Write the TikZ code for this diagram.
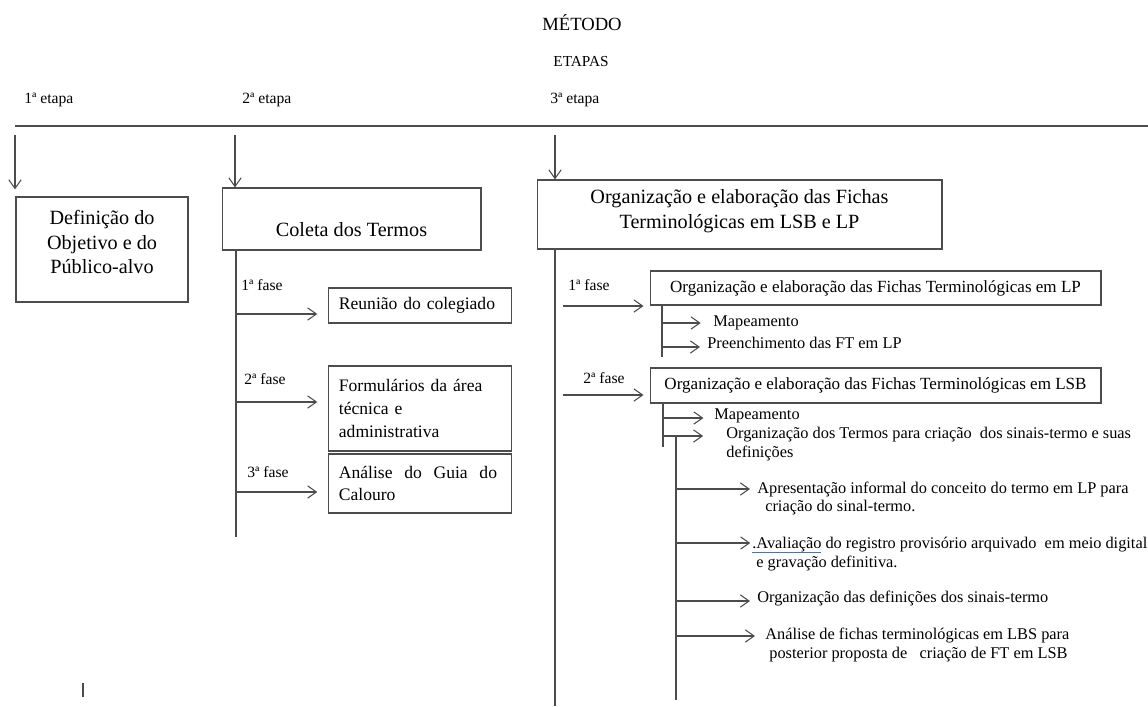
\documentclass[tikz,border=0pt]{standalone}
\usepackage{fontspec}
\setmainfont{Liberation Serif}
\usetikzlibrary{arrows.meta}

\definecolor{ulblue}{RGB}{68,114,196}
\newsavebox{\ulbox}
\newcommand{\blueul}[1]{\sbox{\ulbox}{#1}\rlap{\textcolor{ulblue}{\rule[-2.4pt]{\wd\ulbox}{0.6pt}}}\usebox{\ulbox}}

\tikzset{
  ln/.style={draw=black!70, line width=0.6pt},
  arr/.style={ln, -{Straight Barb[length=5pt,width=7pt]}},
  bigbox/.style={draw=black!70, line width=0.6pt, rectangle, inner sep=0pt, font=\fontsize{11.5}{14}\selectfont},
  medbox/.style={draw=black!70, line width=0.6pt, rectangle, inner xsep=6pt, inner ysep=0pt, text width=92.3pt, align=left, font=\fontsize{10}{13}\selectfont},
  fichabox/.style={draw=black!70, line width=0.6pt, rectangle, inner sep=0pt, minimum width=9.02cm, font=\fontsize{9.7}{10.4}\selectfont},
  lbl/.style={inner sep=0pt, anchor=west, font=\fontsize{8.9}{10}\selectfont},
  item/.style={inner sep=0pt, anchor=west, align=left, font=\fontsize{9.3}{10.4}\selectfont},
}

\begin{document}
\begin{tikzpicture}[x=0.02cm, y=-0.02cm]
 \useasboundingbox (0,0) rectangle (1148,706);

 \node (metodo) [font=\fontsize{10.6}{12}\selectfont] at (582,23) {MÉTODO};
 \node (etapas) [font=\fontsize{8.7}{10}\selectfont] at (581,62) {ETAPAS};
 \node (etapa1) [lbl] at (24,100) {1ª etapa};
 \node (etapa2) [lbl] at (242,100) {2ª etapa};
 \node (etapa3) [lbl] at (550,100) {3ª etapa};
 \coordinate (linel) at (15,126);
 \coordinate (liner) at (1148,126);
 \draw[ln] (linel) -- (liner);

 \node (objetivo) [bigbox, minimum width=3.44cm, minimum height=2.10cm] at (102,249.5) {\begin{tabular}{c}Definição do\\ Objetivo e do\\ Público-alvo\\[6pt]\end{tabular}};
 \node (coleta) [bigbox, minimum width=5.18cm, minimum height=1.24cm] at (351.5,219) {\begin{tabular}{c}\\ Coleta dos Termos\end{tabular}};
 \node (fichas) [bigbox, minimum width=8.10cm, minimum height=1.38cm] at (739.5,214.5) {\begin{tabular}{c}Organização e elaboração das Fichas\\ Terminológicas em LSB e LP\\[4pt]\end{tabular}};

 \coordinate (e1) at (15,135);
 \coordinate (e2) at (235,135);
 \coordinate (e3) at (555,135);
 \draw[arr, shorten >=4pt] (e1) -- (e1 |- objetivo.north);
 \draw[arr] (e2) -- (e2 |- coleta.north);
 \draw[arr] (e3) -- (e3 |- fichas.north);

 % 2a etapa
 \coordinate (cbot) at (236,537);
 \draw[ln] (cbot |- coleta.south) -- (cbot);
 \node (fase1) [lbl] at (241,285) {1ª fase};
 \node (reuniao) [medbox, minimum height=0.70cm] at (420,305.5) {Reunião do colegiado};
 \node (fase2) [lbl] at (244,379) {2ª fase};
 \node (formularios) [medbox, minimum height=1.70cm] at (420,408.5) {Formulários da área\\ técnica e\\ administrativa};
 \node (fase3) [lbl] at (247,472) {3ª fase};
 \node (analise) [medbox, minimum height=1.18cm] at (420,483.5) {\makebox[90pt]{Análise\hfill do\hfill Guia\hfill do}\\ Calouro};
 \coordinate (c1) at (236,314);
 \coordinate (c2) at (236,402);
 \coordinate (c3) at (236,492);
 \draw[arr, shorten >=6pt] (c1) -- (c1 -| reuniao.west);
 \draw[arr, shorten >=6pt] (c2) -- (c2 -| formularios.west);
 \draw[arr, shorten >=6pt] (c3) -- (c3 -| analise.west);

 % 3a etapa
 \coordinate (fbot) at (555,706);
 \draw[ln] (fbot |- fichas.south) -- (fbot);
 \node (fase1b) [lbl] at (568,285) {1ª fase};
 \node (fichaslp) [fichabox, minimum height=0.68cm] at (875.5,288) {Organização e elaboração das Fichas Terminológicas em LP};
 \node (fase2b) [lbl] at (583,378) {2ª fase};
 \node (fichaslsb) [fichabox, minimum height=0.70cm] at (875.5,385.5) {Organização e elaboração das Fichas Terminológicas em LSB};
 \coordinate (r1) at (563,306);
 \coordinate (r2) at (563,395);
 \draw[arr, shorten >=3.4pt] (r1) -- (r1 -| fichaslp.west);
 \draw[arr, shorten >=3.4pt] (r2) -- (r2 -| fichaslsb.west);

 \coordinate (lpbot) at (662,357);
 \draw[ln] (lpbot |- fichaslp.south) -- (lpbot);
 \node (mapa1) [item] at (713,323) {Mapeamento};
 \node (preench) [item] at (707,343) {Preenchimento das FT em LP};
 \coordinate (m1) at (662,323);
 \coordinate (p1) at (662,347);
 \draw[arr, shorten >=7pt] (m1) -- (m1 -| mapa1.west);
 \draw[arr, shorten >=4pt] (p1) -- (p1 -| preench.west);

 \coordinate (lsbbot) at (663,447);
 \draw[ln] (lsbbot |- fichaslsb.south) -- (lsbbot);
 \node (mapa2) [item] at (714,416) {Mapeamento};
 \node (orgtermos) [item] at (726,444) {Organização dos Termos para criação\ \ dos sinais-termo e suas\\ definições};
 \coordinate (m2) at (663,418);
 \coordinate (o2) at (663,436);
 \draw[arr, shorten >=6pt] (m2) -- (m2 -| mapa2.west);
 \draw[arr, shorten >=13pt] (o2) -- (o2 -| orgtermos.west);

 \coordinate (stop) at (676,437);
 \coordinate (sbot) at (676,700);
 \draw[ln] (stop) -- (sbot);
 \node (apres) [item] at (757,498.5) {Apresentação informal do conceito do termo em LP para\\ \hspace*{4.5pt}criação do sinal-termo.};
 \node (aval) [item] at (752,554) {\blueul{.Avaliação} do registro provisório arquivado\ \ em meio digital\\ \hspace*{2.3pt}e gravação definitiva.};
 \node (orgdef) [item] at (757,599) {Organização das definições dos sinais-termo};
 \node (analfichas) [item] at (765,645) {Análise de fichas terminológicas em LBS para\\ \hspace*{2.3pt}posterior proposta de\ \ \ criação de FT em LSB};
 \coordinate (s1) at (676,489);
 \coordinate (s2) at (676,543);
 \coordinate (s3) at (676,601);
 \coordinate (s4) at (676,636);
 \draw[arr, shorten >=4pt] (s1) -- (s1 -| apres.west);
 \draw[arr, shorten >=1pt] (s2) -- (s2 -| aval.west);
 \draw[arr, shorten >=4pt] (s3) -- (s3 -| orgdef.west);
 \draw[arr, shorten >=5.7pt] (s4) -- (s4 -| analfichas.west);

 \draw[ln] (83,683) -- (83,697);
\end{tikzpicture}
\end{document}
